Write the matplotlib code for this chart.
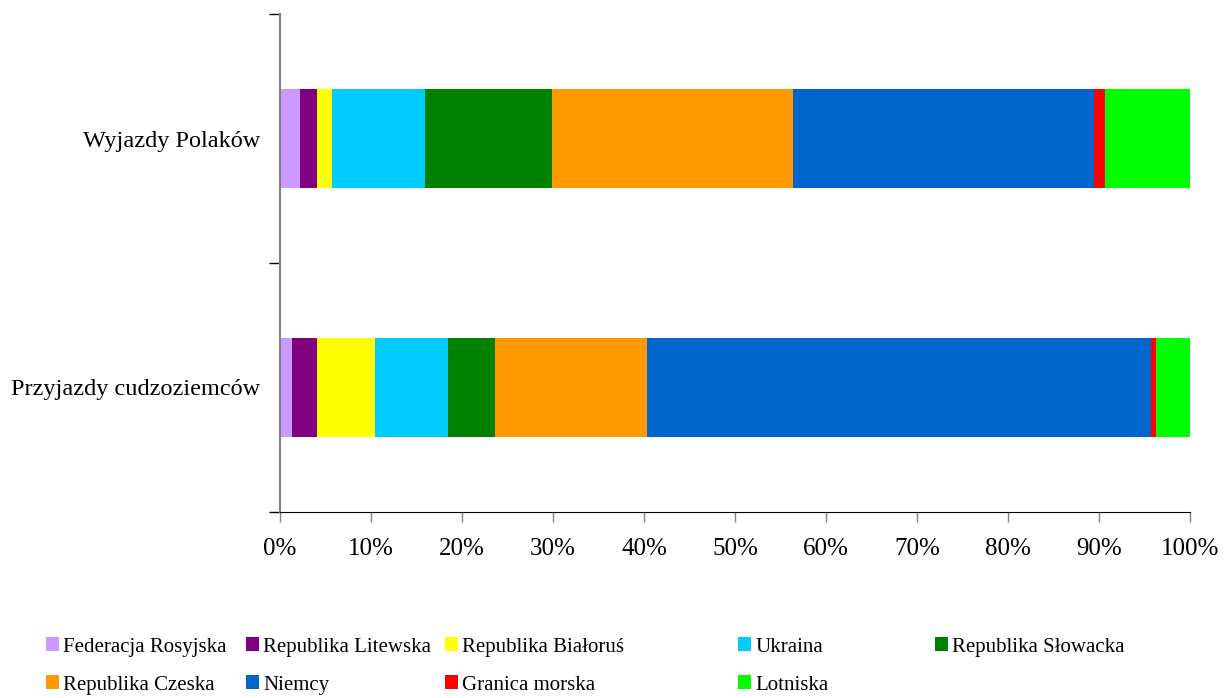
import numpy as np
import matplotlib
matplotlib.use('Agg')
import matplotlib.pyplot as plt
from matplotlib.patches import Patch

plt.rcParams['font.family'] = 'Liberation Serif'

categories = ['Przyjazdy cudzoziemców', 'Wyjazdy Polaków']
series = ['Federacja Rosyjska', 'Republika Litewska', 'Republika Białoruś', 'Ukraina',
          'Republika Słowacka', 'Republika Czeska', 'Niemcy', 'Granica morska', 'Lotniska']
colors = ['#CC99FF', '#800080', '#FFFF00', '#00CCFF', '#008000',
          '#FF9900', '#0066CC', '#FF0000', '#00FF00']
# shares in % : [Przyjazdy, Wyjazdy]
przyjazdy = [1.32, 2.75, 6.37, 8.02, 5.16, 16.70, 55.38, 0.55, 3.74]
wyjazdy = [2.20, 1.87, 1.65, 10.22, 13.96, 26.48, 33.08, 1.21, 9.34]
xticks = [0, 10, 20, 30, 40, 50, 60, 70, 80, 90, 100]

fig = plt.figure(figsize=(12.27, 6.98), dpi=100)
ax = fig.add_axes([280 / 1227, 1 - 512 / 698, 910 / 1227, 498 / 698])

ypos = np.array([0.5, 1.5])
left = np.zeros(2)
for name, c, p, w in zip(series, colors, przyjazdy, wyjazdy):
    vals = np.array([p, w])
    ax.barh(ypos, vals, left=left, height=0.4, color=c, label=name, linewidth=0)
    left += vals

ax.set_xlim(0, 100)
ax.set_ylim(0, 2)
ax.set_xticks(xticks)
ax.set_xticklabels([f'{t}%' for t in xticks], fontsize=18)
ax.tick_params(axis='x', length=7, width=1, color='#808080', pad=12)

ax.set_yticks([0, 1, 2])
ax.set_yticklabels([])
ax.set_yticks(ypos, minor=True)
ax.set_yticklabels(categories, minor=True, fontsize=17.5)
ax.tick_params(axis='y', which='major', length=8, width=1, color='black')
ax.tick_params(axis='y', which='minor', length=0, pad=14)

for s in ['top', 'right']:
    ax.spines[s].set_visible(False)
ax.spines['left'].set_color('#808080')
ax.spines['left'].set_linewidth(1.5)
ax.spines['bottom'].set_color('black')

# legend laid out like the original: 5 columns, row-major
col_x = [46, 246, 445, 738, 935]
row_y = [647, 685]
for i, (name, c) in enumerate(zip(series, colors)):
    r, k = divmod(i, 5)
    fig.legend(handles=[Patch(color=c, linewidth=0)], labels=[name],
               loc='center left', bbox_to_anchor=(col_x[k] / 1227, 1 - row_y[r] / 698),
               frameon=False, fontsize=15, borderpad=0, borderaxespad=0,
               handlelength=0.62, handleheight=0.62, handletextpad=0.2)

fig.savefig('out.png', dpi=100)
